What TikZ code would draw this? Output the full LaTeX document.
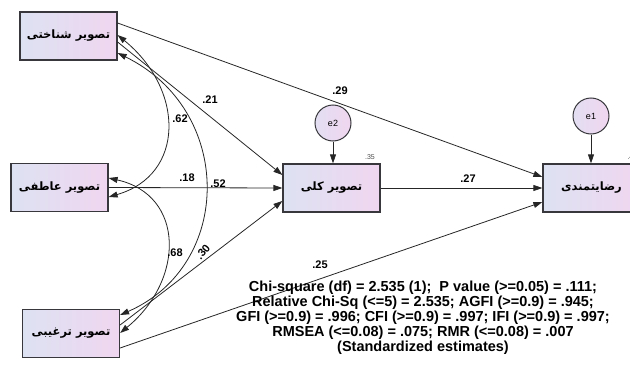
\documentclass[tikz,border=0pt]{standalone}
\usepackage{fontspec}
\setmainfont{Liberation Sans}
\newfontfamily\farsi[Script=Arabic]{DejaVu Sans}
\TeXXeTstate=1
\usetikzlibrary{arrows.meta}
\definecolor{boxleft}{RGB}{221,226,242}
\definecolor{boxright}{RGB}{240,214,240}
\definecolor{edge}{RGB}{55,55,60}

\tikzset{
  var/.style={draw=edge, line width=1.2pt, left color=boxleft, right color=boxright,
    minimum width=97pt, minimum height=48pt, inner sep=0pt,
    font=\farsi\bfseries\fontsize{11.5}{13}\selectfont},
  err/.style={circle, draw=edge, line width=1pt, left color=boxleft!70!boxright, right color=boxright,
    minimum size=36pt, inner sep=0pt, font=\fontsize{9}{10}\selectfont},
  coef/.style={font=\bfseries\fontsize{11}{12}\selectfont, inner sep=0pt},
  arr/.style={-{Triangle[length=9pt,width=6pt]}, line width=0.8pt, draw=black!85},
  cov/.style={{Triangle[length=9pt,width=6pt]}-{Triangle[length=9pt,width=6pt]}, line width=0.8pt, draw=black!85}
}

\begin{document}
\begin{tikzpicture}[x=1pt, y=1pt]
    \useasboundingbox (0,0) rectangle (630,376);

    % Exogenous
    \node[var] (A) at (68.5,340) {\beginR تصویر شناختی\endR};
    \node[var] (B) at (59.5,188.5) {\beginR تصویر عاطفی\endR};
    \node[var] (C) at (71,42.5) {\beginR تصویر ترغیبی\endR};

    % Endogenous
    \node[var] (D) at (331.5,188) {\beginR تصویر کلی\endR};
    \node[var] (E) at (591.5,188) {\beginR رضایتمندی\endR};
    \node[err] (e2) at (333,253) {e2};
    \node[err] (e1) at (591,260) {e1};
    \node[font=\fontsize{7}{8}\selectfont, text=black!70] (r2D) at (370,219) {.35};
    \node[font=\fontsize{7}{8}\selectfont, text=black!70, anchor=west] (r2E) at (624,219) {.4};

    % Paths
    \draw[arr] (e2.south) -- (e2.south |- D.north);
    \draw[arr] (e1.south) -- (e1.south |- E.north);
    \draw[arr] ([yshift=13pt]A.east) -- ([yshift=11pt]E.west);
    \draw[arr] ([yshift=-6pt]A.east) -- ([yshift=13pt]D.west);
    \draw[arr] (B.east) -- (D.west);
    \draw[arr] ([yshift=8.5pt]C.east) -- ([yshift=-13pt]D.west);
    \draw[arr] ([yshift=-14.5pt]C.east) -- ([yshift=-14pt]E.west);
    \draw[arr] (D.east) -- (E.west);

    % Covariances
    \draw[cov] ([yshift=1pt]A.east) .. controls (185,286) and (185,201) .. ([yshift=-9.5pt]B.east);
    \draw[cov] ([yshift=9.5pt]B.east) .. controls (185,181) and (185,96) .. ([yshift=0.5pt]C.east);
    \draw[cov] ([yshift=-17pt]A.east) .. controls (234,266) and (234,111) .. ([yshift=18.5pt]C.east);

    % Estimates
    \foreach \n/\x/\y/\v in {AE/340/285/.29, AD/210/276/.21, AB/180/257/.62, AC/187/198/.18,
                             BD/218/192/.52, BC/175/123/.68, DE/468/197/.27, CE/320/111/.25} {
        \node[coef] (w\n) at (\x,\y) {\v};
    }
    \node[coef, rotate=50] (wCD) at (203,124) {.30};

    % Fit
    \node[align=center, font=\bfseries\fontsize{14.5}{15}\selectfont] (fit) at (423,58)
      {Chi-square (df) = 2.535 (1);\ \ P value (>=0.05) = .111;\\
       Relative Chi-Sq (<=5) = 2.535; AGFI (>=0.9) = .945;\\
       GFI (>=0.9) = .996; CFI (>=0.9) = .997; IFI (>=0.9) = .997;\\
       RMSEA (<=0.08) = .075; RMR (<=0.08) = .007\\
       (Standardized estimates)};
\end{tikzpicture}
\end{document}
